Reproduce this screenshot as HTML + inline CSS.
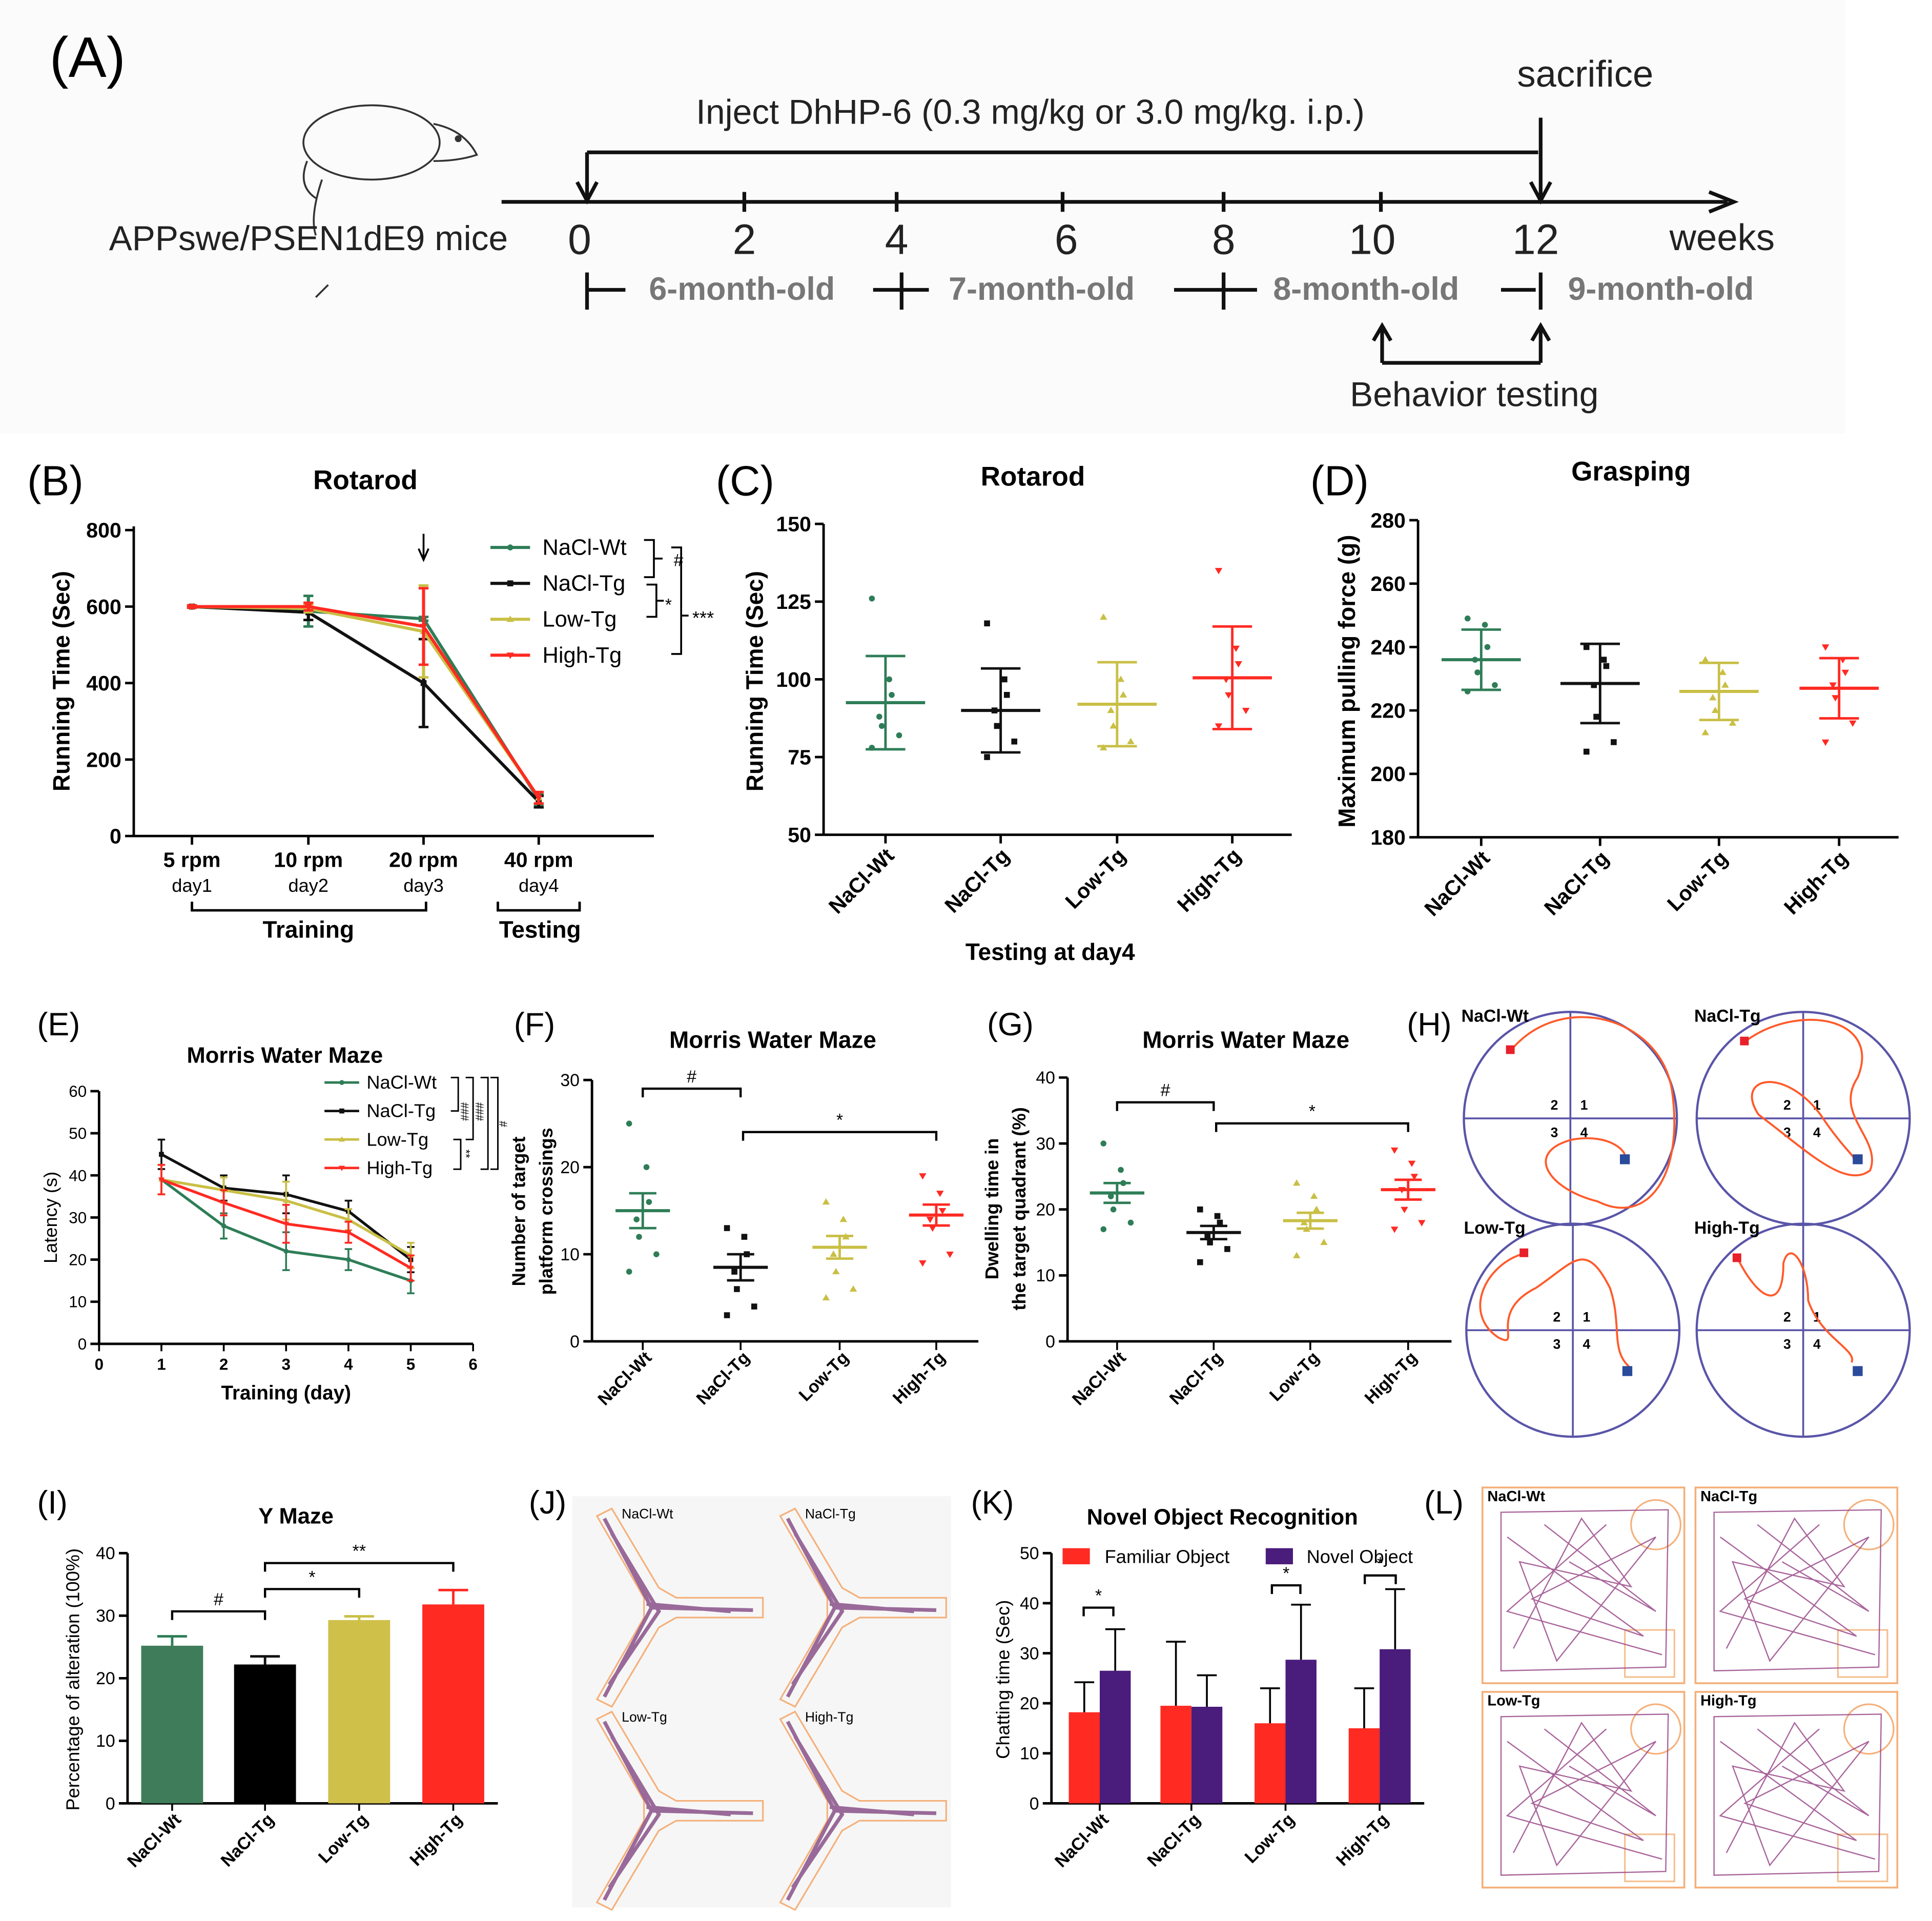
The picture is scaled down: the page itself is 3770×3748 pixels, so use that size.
<!DOCTYPE html>
<html><head><meta charset="utf-8">
<style>
html,body{margin:0;padding:0;background:#fff;}
svg{display:block;font-family:"Liberation Sans",Arial,sans-serif;}
</style></head>
<body>
<svg id="fig" width="3770" height="3748" viewBox="0 0 1560 1551" preserveAspectRatio="none" xmlns="http://www.w3.org/2000/svg">
<rect width="1560" height="1551" fill="#fff"/>
<rect x="0" y="0" width="1490" height="350" fill="#fbfbfb"/>
<!-- Panel A -->
<g>
<text x="40" y="62" font-size="46">(A)</text>
<g fill="none" stroke="#333" stroke-width="1.5">
<ellipse cx="300" cy="115" rx="55" ry="30"/>
<path d="M350 100 Q375 105 385 125 Q370 130 350 130"/>
<path d="M248 130 Q240 150 255 160 M260 145 Q250 175 255 190 M265 230 L255 240"/>
<circle cx="370" cy="112" r="2" fill="#333"/>
</g>
<text x="88" y="202" font-size="28" fill="#222">APPswe/PSEN1dE9 mice</text>
<text x="562" y="100" font-size="28" fill="#222">Inject DhHP-6 (0.3 mg/kg or 3.0 mg/kg. i.p.)</text>
<text x="1225" y="70" font-size="30" fill="#222">sacrifice</text>
<line x1="405" y1="163" x2="1395" y2="163" stroke="#111" stroke-width="3"/>
<path d="M1380 155 L1400 163 L1380 171" fill="none" stroke="#111" stroke-width="3"/>
<line x1="474" y1="123" x2="1242" y2="123" stroke="#111" stroke-width="3"/>
<line x1="474" y1="123" x2="474" y2="160" stroke="#111" stroke-width="3"/>
<path d="M466 147 L474 162 L482 147" fill="none" stroke="#111" stroke-width="3"/>
<line x1="1244" y1="95" x2="1244" y2="160" stroke="#111" stroke-width="3"/>
<path d="M1236 147 L1244 162 L1252 147" fill="none" stroke="#111" stroke-width="3"/>
<g font-size="34" fill="#222" text-anchor="middle">
<text x="468" y="205">0</text><text x="601" y="205">2</text><text x="724" y="205">4</text><text x="861" y="205">6</text><text x="988" y="205">8</text><text x="1108" y="205">10</text><text x="1240" y="205">12</text>
</g>
<g stroke="#111" stroke-width="3"><line x1="601" y1="155" x2="601" y2="171"/><line x1="724" y1="155" x2="724" y2="171"/><line x1="858" y1="155" x2="858" y2="171"/><line x1="988" y1="155" x2="988" y2="171"/><line x1="1115" y1="155" x2="1115" y2="171"/></g>
<text x="1348" y="202" font-size="30" fill="#222">weeks</text>
<g font-size="26" font-weight="bold" fill="#777">
<text x="524" y="242">6-month-old</text><text x="766" y="242">7-month-old</text><text x="1028" y="242">8-month-old</text><text x="1266" y="242">9-month-old</text>
</g>
<g stroke="#111" stroke-width="3">
<line x1="474" y1="220" x2="474" y2="250"/><line x1="474" y1="234" x2="505" y2="234"/>
<line x1="705" y1="234" x2="750" y2="234"/><line x1="728" y1="220" x2="728" y2="250"/>
<line x1="948" y1="234" x2="1015" y2="234"/><line x1="988" y1="220" x2="988" y2="250"/>
<line x1="1212" y1="234" x2="1240" y2="234"/><line x1="1244" y1="220" x2="1244" y2="250"/>
<line x1="1116" y1="265" x2="1116" y2="293"/><line x1="1244" y1="265" x2="1244" y2="293"/><line x1="1116" y1="293" x2="1244" y2="293"/>
<path d="M1109 275 L1116 263 L1123 275 M1237 275 L1244 263 L1251 275" fill="none"/>
</g>
<text x="1090" y="328" font-size="28" fill="#222">Behavior testing</text>
</g>
<g id="charts"></g>
</svg>
<script>
// ---------- data ----------
const groups = ["NaCl-Wt","NaCl-Tg","Low-Tg","High-Tg"];
const colors = ["#2e7d57","#111111","#c9bf45","#ff2a22"];
// B rotarod
const bCats = ["5 rpm","10 rpm","20 rpm","40 rpm"];
const bDays = ["day1","day2","day3","day4"];
const bTicks = [0,200,400,600,800];
const bWt = [600,588,568,95];
const bTg = [600,585,400,90];
const bLow = [600,595,535,100];
const bHigh = [600,600,548,100];
const bErr = [[3,40,5,15],[3,20,115,15],[3,10,120,15],[3,10,100,15]];
// C rotarod day4
const cTicks = [50,75,100,125,150];
const cMean = [92.5,90,92,100.5];
const cSem = [15,13.5,13.5,16.5];
const cPts = [[126,100,95,88,85,82,78],[118,100,95,90,85,80,75],[120,100,95,90,85,80,78],[135,110,105,100,95,90,85]];
// D grasping
const dTicks = [180,200,220,240,260,280];
const dMean = [236,228.5,226,227];
const dSem = [9.5,12.5,9,9.5];
const dPts = [[249,247,240,236,232,228,226],[240,236,234,228,218,210,207],[236,232,228,224,220,216,213],[240,236,232,228,224,216,210]];
// E MWM latency
const eDays = [1,2,3,4,5];
const eXTicks = [0,1,2,3,4,5,6];
const eYTicks = [0,10,20,30,40,50,60];
const eWt = [39,28,22,20,15];
const eTg = [45,37,35.5,31.5,20];
const eLow = [39,36.5,34,29.5,21];
const eHigh = [39,33.5,28.5,26.5,18];
const eErr = [3.5,3,4.5,2.5,3];
// F crossings
const fTicks = [0,10,20,30];
const fMean = [15,8.5,10.8,14.5];
const fSem = [2,1.5,1.3,1.2];
const fPts = [[25,20,16,14,12,10,8],[13,12,10,8,6,4,3],[16,14,12,10,8,6,5],[19,17,15,14,13,10,9]];
// G dwelling
const gTicks = [0,10,20,30,40];
const gMean = [22.5,16.5,18.3,23];
const gSem = [1.5,1,1.2,1.5];
const gPts = [[30,26,24,22,20,18,17],[20,19,18,16,15,14,12],[24,22,20,18,17,15,13],[29,27,25,23,20,18,17]];
// I Y maze
const iTicks = [0,10,20,30,40];
const iVals = [25.2,22.2,29.3,31.8];
const iErr = [1.5,1.3,0.6,2.3];
// K NOR
const kTicks = [0,10,20,30,40,50];
const kFam = [18.2,19.5,16,15];
const kNov = [26.5,19.3,28.7,30.8];
const kFamErr = [6,12.8,7,8];
const kNovErr = [8.3,6.3,11,12];

// ---------- helpers ----------
const NS="http://www.w3.org/2000/svg";
const root=document.getElementById('charts');
function el(tag,attrs,parent,text){const e=document.createElementNS(NS,tag);for(const k in attrs)e.setAttribute(k,attrs[k]);if(text!==undefined)e.textContent=text;(parent||root).appendChild(e);return e;}
function lin(d0,d1,r0,r1){return v=>r0+(v-d0)/(d1-d0)*(r1-r0);}
function yAxis(g,x,yS,ticks,y0,y1,fs,bold){
  el('line',{x1:x,y1:y0,x2:x,y2:y1,stroke:'#000','stroke-width':2},g);
  ticks.forEach(t=>{const y=yS(t);el('line',{x1:x-7,y1:y,x2:x,y2:y,stroke:'#000','stroke-width':2},g);
    const tx=el('text',{x:x-10,y:y+fs*0.35,'font-size':fs,'text-anchor':'end','font-weight':bold?'bold':'normal'},g,String(t));
    
    });
}
function vtext(g,x,y,txt,fs,bold,name){const t=el('text',{x:x,y:y,'font-size':fs,'text-anchor':'middle','font-weight':bold?'bold':'normal',transform:`rotate(-90 ${x} ${y})`},g,txt);
  
  return t;}
function txt(g,x,y,s,fs,opts,name){const a=Object.assign({x:x,y:y,'font-size':fs},opts||{});const t=el('text',a,g,s);
  
  return t;}
function rotLabels(g,xs,yBase,fs,bold){groups.forEach((n,i)=>{const x=xs[i],y=yBase;const t=el('text',{x:x,y:y,'font-size':fs,'text-anchor':'end','font-weight':bold?'bold':'normal',transform:`rotate(-45 ${x} ${y})`},g,n);
  
  });}
function marker(g,i,x,y,s){const c=colors[i];let m;
  if(i===0)m=el('circle',{cx:x,cy:y,r:s*0.8,fill:c},g);
  else if(i===1)m=el('rect',{x:x-s*0.8,y:y-s*0.8,width:s*1.6,height:s*1.6,fill:c},g);
  else if(i===2)m=el('path',{d:`M${x} ${y-s} L${x+s} ${y+s*0.7} L${x-s} ${y+s*0.7}Z`,fill:c},g);
  else m=el('path',{d:`M${x} ${y+s} L${x+s} ${y-s*0.7} L${x-s} ${y-s*0.7}Z`,fill:c},g);
  
  }
function scatterPanel(g,xs,yS,pts,mean,sem,hw){
  groups.forEach((n,i)=>{const c=colors[i],x=xs[i];
    pts[i].forEach((v,j)=>{const dx=((j%3)-1)*8+(j%2?3:-3);marker(g,i,x+dx,yS(v),3);});
    const m=el('line',{x1:x-hw,y1:yS(mean[i]),x2:x+hw,y2:yS(mean[i]),stroke:c,'stroke-width':2.5},g);
    
    
    el('line',{x1:x,y1:yS(mean[i]+sem[i]),x2:x,y2:yS(mean[i]-sem[i]),stroke:c,'stroke-width':2},g);
    el('line',{x1:x-hw*0.5,y1:yS(mean[i]+sem[i]),x2:x+hw*0.5,y2:yS(mean[i]+sem[i]),stroke:c,'stroke-width':2},g);
    el('line',{x1:x-hw*0.5,y1:yS(mean[i]-sem[i]),x2:x+hw*0.5,y2:yS(mean[i]-sem[i]),stroke:c,'stroke-width':2},g);
  });}
function bracket(g,x1,x2,y,label){el('path',{d:`M${x1} ${y+7} L${x1} ${y} L${x2} ${y} L${x2} ${y+7}`,fill:'none',stroke:'#000','stroke-width':1.8},g);
  txt(g,(x1+x2)/2,y-5,label,14,{'text-anchor':'middle'},'significance-mark');}
function group(name){const g=el('g',{});
  
  return g;}

// ---------- Panel B ----------
(function(){const g=group('panel-b-rotarod');
  txt(g,22,400,'(B)',34,{},'panel-b-label');
  txt(g,295,395,'Rotarod',22,{'font-weight':'bold','text-anchor':'middle'},'chart-title');
  const yS=lin(0,800,675,428); const xs=[155,249,342,435];
  yAxis(g,108,yS,bTicks,425,675,17,true);
  el('line',{x1:108,y1:675,x2:528,y2:675,stroke:'#000','stroke-width':2},g);
  xs.forEach((x,i)=>{el('line',{x1:x,y1:675,x2:x,y2:682,stroke:'#000','stroke-width':2},g);
    txt(g,x,700,bCats[i],17,{'font-weight':'bold','text-anchor':'middle'},'x-tick-label');
    txt(g,x,720,bDays[i],15,{'text-anchor':'middle'},'x-tick-sublabel');});
  vtext(g,56,550,'Running Time (Sec)',19,true,'y-axis-title');
  el('path',{d:'M155 728 L155 735 L344 735 L344 728 M402 728 L402 735 L468 735 L468 728',fill:'none',stroke:'#000','stroke-width':2},g);
  txt(g,249,757,'Training',19,{'font-weight':'bold','text-anchor':'middle'},'training-label');
  txt(g,436,757,'Testing',19,{'font-weight':'bold','text-anchor':'middle'},'testing-label');
  el('path',{d:'M342 431 L342 450 M338 443 L342 452 L346 443',fill:'none',stroke:'#000','stroke-width':1.5},g);
  [bWt,bTg,bLow,bHigh].forEach((s,i)=>{
    const p=el('polyline',{points:s.map((v,j)=>xs[j]+','+yS(v)).join(' '),fill:'none',stroke:colors[i],'stroke-width':2.5},g);
    
    
    s.forEach((v,j)=>{const e=bErr[i][j];el('line',{x1:xs[j],y1:yS(v+e),x2:xs[j],y2:yS(v-e),stroke:colors[i],'stroke-width':2.5},g);
      el('line',{x1:xs[j]-4,y1:yS(v+e),x2:xs[j]+4,y2:yS(v+e),stroke:colors[i],'stroke-width':2},g);
      el('line',{x1:xs[j]-4,y1:yS(v-e),x2:xs[j]+4,y2:yS(v-e),stroke:colors[i],'stroke-width':2},g);
      marker(g,i,xs[j],yS(v),3);});
  });
  groups.forEach((n,i)=>{const y=442+i*29;const lg=group('legend-entry-'+n);g.appendChild(lg);
    el('line',{x1:396,y1:y,x2:428,y2:y,stroke:colors[i],'stroke-width':2.5},lg);marker(lg,i,412,y,3);
    txt(lg,438,y+6,n,18,{},'legend-label');});
  el('path',{d:'M520 436 L528 436 L528 466 L520 466 M528 451 L535 451',fill:'none',stroke:'#000','stroke-width':1.5},g);
  txt(g,544,457,'#',14,{},'significance-mark');
  el('path',{d:'M522 472 L530 472 L530 498 L522 498 M530 485 L536 485',fill:'none',stroke:'#000','stroke-width':1.5},g);
  txt(g,537,493,'*',14,{},'significance-mark');
  el('path',{d:'M542 442 L550 442 L550 528 L542 528 M550 497 L556 497',fill:'none',stroke:'#000','stroke-width':1.5},g);
  txt(g,559,504,'***',15,{},'significance-mark');
})();

// ---------- Panel C ----------
(function(){const g=group('panel-c-rotarod-day4');
  txt(g,578,400,'(C)',34,{},'panel-c-label');
  txt(g,834,392,'Rotarod',22,{'font-weight':'bold','text-anchor':'middle'},'chart-title');
  const yS=lin(50,150,674,423); const xs=[715,808,902,995];
  yAxis(g,665,yS,cTicks,423,674,17,true);
  el('line',{x1:665,y1:674,x2:1043,y2:674,stroke:'#000','stroke-width':2},g);
  xs.forEach(x=>el('line',{x1:x,y1:674,x2:x,y2:681,stroke:'#000','stroke-width':2},g));
  vtext(g,616,550,'Running Time (Sec)',19,true,'y-axis-title');
  scatterPanel(g,xs,yS,cPts,cMean,cSem,32);
  rotLabels(g,xs.map(x=>x+8),692,17,true);
  txt(g,848,775,'Testing at day4',19,{'font-weight':'bold','text-anchor':'middle'},'x-axis-title');
})();

// ---------- Panel D ----------
(function(){const g=group('panel-d-grasping');
  txt(g,1058,400,'(D)',34,{},'panel-d-label');
  txt(g,1317,388,'Grasping',22,{'font-weight':'bold','text-anchor':'middle'},'chart-title');
  const yS=lin(180,280,676,420); const xs=[1196,1292,1388,1485];
  yAxis(g,1145,yS,dTicks,420,676,17,true);
  el('line',{x1:1145,y1:676,x2:1533,y2:676,stroke:'#000','stroke-width':2},g);
  xs.forEach(x=>el('line',{x1:x,y1:676,x2:x,y2:683,stroke:'#000','stroke-width':2},g));
  vtext(g,1094,550,'Maximum pulling force (g)',19,true,'y-axis-title');
  scatterPanel(g,xs,yS,dPts,dMean,dSem,32);
  rotLabels(g,xs.map(x=>x+8),694,17,true);
})();

// ---------- Panel E ----------
(function(){const g=group('panel-e-mwm-latency');
  txt(g,30,836,'(E)',26,{},'panel-e-label');
  txt(g,230,858,'Morris Water Maze',18,{'font-weight':'bold','text-anchor':'middle'},'chart-title');
  const xS=lin(0,6,80,382), yS=lin(0,60,1085,881);
  yAxis(g,80,yS,eYTicks,881,1085,13,false);
  el('line',{x1:80,y1:1085,x2:382,y2:1085,stroke:'#000','stroke-width':2},g);
  eXTicks.forEach(t=>{el('line',{x1:xS(t),y1:1085,x2:xS(t),y2:1091,stroke:'#000','stroke-width':1.5},g);
    txt(g,xS(t),1106,String(t),13,{'text-anchor':'middle','font-weight':'bold'},'x-tick-label');});
  txt(g,231,1130,'Training (day)',16,{'font-weight':'bold','text-anchor':'middle'},'x-axis-title');
  vtext(g,46,983,'Latency (s)',15,false,'y-axis-title');
  [eWt,eTg,eLow,eHigh].forEach((s,i)=>{
    const p=el('polyline',{points:s.map((v,j)=>xS(eDays[j])+','+yS(v)).join(' '),fill:'none',stroke:colors[i],'stroke-width':2.2},g);
    
    
    s.forEach((v,j)=>{const x=xS(eDays[j]),e=eErr[j];
      el('line',{x1:x,y1:yS(v+e),x2:x,y2:yS(v-e),stroke:colors[i],'stroke-width':1.5},g);
      el('line',{x1:x-3,y1:yS(v+e),x2:x+3,y2:yS(v+e),stroke:colors[i],'stroke-width':1.5},g);
      el('line',{x1:x-3,y1:yS(v-e),x2:x+3,y2:yS(v-e),stroke:colors[i],'stroke-width':1.5},g);
      marker(g,i,x,yS(v),2.5);});
  });
  groups.forEach((n,i)=>{const y=874+i*23;const lg=group('legend-entry-'+n);g.appendChild(lg);
    el('line',{x1:262,y1:y,x2:290,y2:y,stroke:colors[i],'stroke-width':2},lg);marker(lg,i,276,y,2.5);
    txt(lg,296,y+5,n,15,{},'legend-label');});
  el('path',{d:'M364 870 L370 870 L370 897 L364 897 M376 870 L382 870 L382 920 L376 920 M388 870 L394 870 L394 944 L388 944 M366 920 L372 920 L372 944 L366 944 M396 870 L402 870 L402 944 L396 944',fill:'none',stroke:'#000','stroke-width':1.2},g);
  txt(g,372,890,'###',9,{transform:'rotate(90 372 890)'},'significance-mark');
  txt(g,384,890,'###',9,{transform:'rotate(90 384 890)'},'significance-mark');
  txt(g,373,928,'**',9,{transform:'rotate(90 373 928)'},'significance-mark');
  txt(g,403,905,'#',9,{transform:'rotate(90 403 905)'},'significance-mark');
})();

// ---------- Panel F ----------
(function(){const g=group('panel-f-crossings');
  txt(g,415,836,'(F)',26,{},'panel-f-label');
  txt(g,624,846,'Morris Water Maze',19,{'font-weight':'bold','text-anchor':'middle'},'chart-title');
  const yS=lin(0,30,1083,872); const xs=[519,598,678,756];
  yAxis(g,478,yS,fTicks,872,1083,14,false);
  el('line',{x1:478,y1:1083,x2:790,y2:1083,stroke:'#000','stroke-width':2},g);
  xs.forEach(x=>el('line',{x1:x,y1:1083,x2:x,y2:1090,stroke:'#000','stroke-width':1.5},g));
  vtext(g,424,978,'Number of target',15,true,'y-axis-title');
  vtext(g,446,978,'platform crossings',15,true,'y-axis-title-line2');
  scatterPanel(g,xs,yS,fPts,fMean,fSem,22);
  rotLabels(g,xs.map(x=>x+8),1097,14,true);
  bracket(g,519,598,879,'#');bracket(g,600,756,914,'*');
})();

// ---------- Panel G ----------
(function(){const g=group('panel-g-dwelling');
  txt(g,797,836,'(G)',26,{},'panel-g-label');
  txt(g,1006,846,'Morris Water Maze',19,{'font-weight':'bold','text-anchor':'middle'},'chart-title');
  const yS=lin(0,40,1083,870); const xs=[902,980,1058,1137];
  yAxis(g,862,yS,gTicks,870,1083,14,false);
  el('line',{x1:862,y1:1083,x2:1172,y2:1083,stroke:'#000','stroke-width':2},g);
  xs.forEach(x=>el('line',{x1:x,y1:1083,x2:x,y2:1090,stroke:'#000','stroke-width':1.5},g));
  vtext(g,806,976,'Dwelling time in',15,true,'y-axis-title');
  vtext(g,828,976,'the target quadrant (%)',15,true,'y-axis-title-line2');
  scatterPanel(g,xs,yS,gPts,gMean,gSem,22);
  rotLabels(g,xs.map(x=>x+8),1097,14,true);
  bracket(g,902,980,890,'#');bracket(g,982,1137,907,'*');
})();

// ---------- Panel H ----------
(function(){const g=group('panel-h-swim-paths');
  txt(g,1136,836,'(H)',26,{},'panel-h-label');
  const cs=[[1268,903,'NaCl-Wt',1220,848,'M1220 848 C1260 800 1340 820 1350 880 C1360 950 1330 990 1290 970 C1250 960 1230 930 1270 920 C1300 915 1315 930 1312 936'],
            [1456,903,'NaCl-Tg',1409,841,'M1409 841 C1450 810 1520 820 1500 870 C1480 900 1520 920 1510 945 C1490 960 1460 930 1420 900 C1400 870 1440 860 1470 900 C1490 930 1500 935 1496 936'],
            [1270,1074,'Low-Tg',1231,1012,'M1231 1012 C1200 1020 1180 1060 1210 1080 C1230 1090 1200 1060 1240 1040 C1270 1020 1280 1000 1300 1040 C1310 1070 1300 1090 1316 1104'],
            [1456,1074,'High-Tg',1403,1016,'M1403 1016 C1420 1050 1440 1060 1440 1020 C1445 1000 1460 1020 1460 1050 C1470 1080 1500 1090 1495 1100']];
  cs.forEach(c=>{const sg=group('maze-track-'+c[2]);g.appendChild(sg);
    el('circle',{cx:c[0],cy:c[1],r:86,fill:'none',stroke:'#5a55a8','stroke-width':1.8},sg);
    el('line',{x1:c[0]-86,y1:c[1],x2:c[0]+86,y2:c[1],stroke:'#5a55a8','stroke-width':1.5},sg);
    el('line',{x1:c[0],y1:c[1]-86,x2:c[0],y2:c[1]+86,stroke:'#5a55a8','stroke-width':1.5},sg);
    txt(sg,c[0]-88,c[1]-78,c[2],14,{'font-weight':'bold'},'track-label');
    [['2',-16,-7],['1',8,-7],['3',-16,15],['4',8,15]].forEach(q=>txt(sg,c[0]+q[1],c[1]+q[2],q[0],11,{'font-weight':'bold'},'quadrant-number'));
    el('path',{d:c[5],fill:'none',stroke:'#ff5a2a','stroke-width':1.6},sg);
    el('rect',{x:c[3]-4,y:c[4]-4,width:7,height:7,fill:'#e8202a'},sg);
    el('rect',{x:c[0]+40,y:c[1]+29,width:8,height:8,fill:'#2a4a9a'},sg);});
})();

// ---------- Panel I ----------
(function(){const g=group('panel-i-ymaze');
  txt(g,30,1222,'(I)',26,{},'panel-i-label');
  txt(g,239,1230,'Y Maze',18,{'font-weight':'bold','text-anchor':'middle'},'chart-title');
  const yS=lin(0,40,1456,1254); const xs=[139,214,290,366];
  yAxis(g,103,yS,iTicks,1254,1456,14,false);
  el('line',{x1:103,y1:1456,x2:402,y2:1456,stroke:'#000','stroke-width':2},g);
  vtext(g,64,1356,'Percentage of alteration (100%)',15,false,'y-axis-title');
  groups.forEach((n,i)=>{const x=xs[i];
    const b=el('rect',{x:x-25,y:yS(iVals[i]),width:50,height:1456-yS(iVals[i]),fill:colors[i]==='#111111'?'#000':(i===0?'#3f7d5a':i===2?'#cfc04a':'#ff2a22')},g);
    
    
    const c=colors[i];el('line',{x1:x,y1:yS(iVals[i]),x2:x,y2:yS(iVals[i]+iErr[i]),stroke:c,'stroke-width':2},g);
    el('line',{x1:x-12,y1:yS(iVals[i]+iErr[i]),x2:x+12,y2:yS(iVals[i]+iErr[i]),stroke:c,'stroke-width':2},g);
    el('line',{x1:x,y1:1456,x2:x,y2:1462,stroke:'#000','stroke-width':1.5},g);});
  rotLabels(g,xs.map(x=>x+8),1470,14,true);
  bracket(g,139,214,1301,'#');bracket(g,214,290,1283,'*');bracket(g,214,366,1262,'**');
})();

// ---------- Panel J ----------
(function(){const g=group('panel-j-ymaze-tracks');
  txt(g,427,1222,'(J)',26,{},'panel-j-label');
  el('rect',{x:462,y:1208,width:306,height:332,fill:'#f6f6f6'},g);
  const pos=[[530,1298,'NaCl-Wt'],[678,1298,'NaCl-Tg'],[530,1462,'Low-Tg'],[678,1462,'High-Tg']];
  pos.forEach(p=>{const sg=group('ymaze-'+p[2]);g.appendChild(sg);const x=p[0],y=p[1];
    el('path',{d:`M${x-10} ${y-8} L${x-48} ${y-74} L${x-36} ${y-80} L${x+2} ${y-16} L${x+16} ${y-8} L${x+86} ${y-8} L${x+86} ${y+8} L${x+16} ${y+8} L${x+2} ${y+16} L${x-36} ${y+80} L${x-48} ${y+74} L${x-10} ${y+8}Z`,fill:'none',stroke:'#f5b07a','stroke-width':1.3},sg);
    el('path',{d:`M${x-42} ${y-72} L${x-4} ${y} L${x+78} ${y+2} M${x-4} ${y} L${x-42} ${y+72} M${x-36} ${y-60} L${x+2} ${y+3} L${x-38} ${y+62} M${x-8} ${y-3} L${x+60} ${y+3}`,fill:'none',stroke:'#7a3b7a','stroke-width':3,opacity:0.75},sg);
    txt(sg,x-28,y-72,p[2],11,{},'track-label');});
})();

// ---------- Panel K ----------
(function(){const g=group('panel-k-nor');
  txt(g,784,1222,'(K)',26,{},'panel-k-label');
  txt(g,987,1231,'Novel Object Recognition',18,{'font-weight':'bold','text-anchor':'middle'},'chart-title');
  const yS=lin(0,50,1456,1254); const xs=[888,962,1038,1114];
  yAxis(g,849,yS,kTicks,1254,1456,14,false);
  el('line',{x1:849,y1:1456,x2:1150,y2:1456,stroke:'#000','stroke-width':2},g);
  vtext(g,815,1356,'Chatting time (Sec)',15,false,'y-axis-title');
  xs.forEach((x,i)=>{
    [[kFam,kFamErr,'#ff2a22',-25,'familiar'],[kNov,kNovErr,'#4a1c7c',0,'novel']].forEach(s=>{
      const v=s[0][i],e=s[1][i];const b=el('rect',{x:x+s[3],y:yS(v),width:25,height:1456-yS(v),fill:s[2]},g);
      
      
      const cx=x+s[3]+12.5;el('line',{x1:cx,y1:yS(v),x2:cx,y2:yS(v+e),stroke:'#000','stroke-width':1.5},g);
      el('line',{x1:cx-8,y1:yS(v+e),x2:cx+8,y2:yS(v+e),stroke:'#000','stroke-width':1.5},g);});
    el('line',{x1:x,y1:1456,x2:x,y2:1462,stroke:'#000','stroke-width':1.5},g);});
  rotLabels(g,xs.map(x=>x+8),1470,14,true);
  const l1=group('legend-entry-familiar');g.appendChild(l1);el('rect',{x:858,y:1250,width:22,height:13,fill:'#ff2a22'},l1);txt(l1,892,1262,'Familiar Object',15,{},'legend-label');
  const l2=group('legend-entry-novel');g.appendChild(l2);el('rect',{x:1022,y:1250,width:22,height:13,fill:'#4a1c7c'},l2);txt(l2,1055,1262,'Novel Object',15,{},'legend-label');
  bracket(g,875,899,1298,'*');bracket(g,1027,1050,1280,'*');bracket(g,1102,1127,1272,'*');
})();

// ---------- Panel L ----------
(function(){const g=group('panel-l-open-field');
  txt(g,1150,1222,'(L)',26,{},'panel-l-label');
  const pos=[[1197,1201,'NaCl-Wt'],[1369,1201,'NaCl-Tg'],[1197,1366,'Low-Tg'],[1369,1366,'High-Tg']];
  pos.forEach(p=>{const sg=group('open-field-'+p[2]);g.appendChild(sg);const x=p[0],y=p[1];
    el('rect',{x:x,y:y,width:163,height:158,fill:'#fff',stroke:'#f5b07a','stroke-width':1.5},sg);
    el('circle',{cx:x+140,cy:y+30,r:20,fill:'none',stroke:'#f5b07a','stroke-width':1.3},sg);
    el('rect',{x:x+115,y:y+115,width:40,height:38,fill:'none',stroke:'#f5c090','stroke-width':1.3},sg);
    el('path',{d:`M${x+15} ${y+20} L${x+150} ${y+18} L${x+148} ${y+145} L${x+15} ${y+148}Z M${x+20} ${y+40} L${x+130} ${y+120} L${x+40} ${y+90} L${x+140} ${y+40} L${x+60} ${y+140} L${x+30} ${y+60} L${x+120} ${y+80} L${x+80} ${y+25} L${x+25} ${y+130} M${x+100} ${y+30} L${x+20} ${y+100} L${x+145} ${y+135} M${x+70} ${y+60} L${x+140} ${y+100} L${x+50} ${y+30}`,fill:'none',stroke:'#9a4a8a','stroke-width':1,opacity:0.85},sg);
    txt(sg,x+4,y+11,p[2],12,{'font-weight':'bold'},'track-label');});
})();
</script>
</body></html>
